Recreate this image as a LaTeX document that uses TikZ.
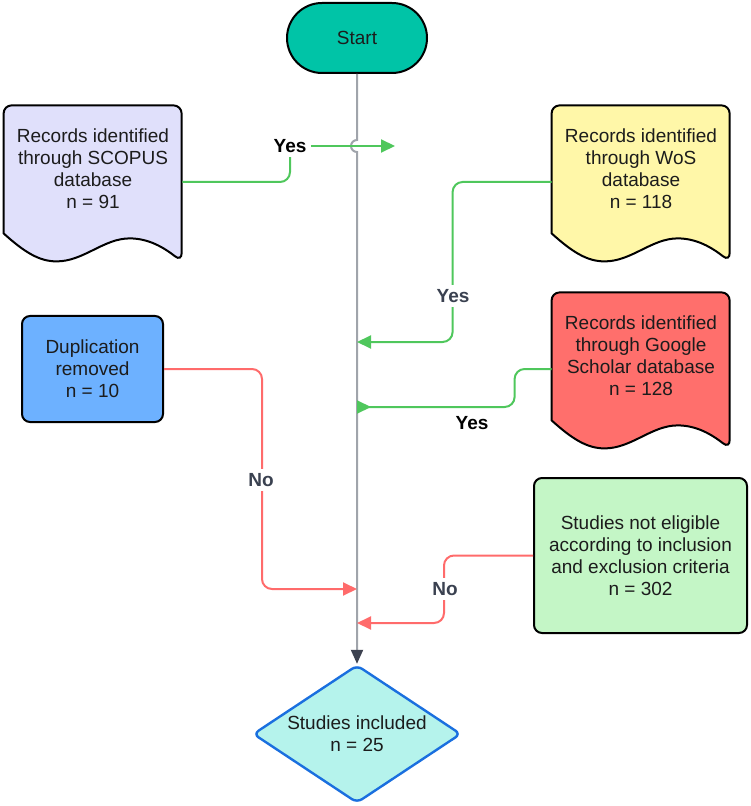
\documentclass[tikz,border=0pt]{standalone}
\usepackage{fontspec}
\setmainfont{Liberation Sans}
\usetikzlibrary{arrows.meta,shapes.geometric,backgrounds}

\definecolor{startfill}{HTML}{00C4A7}
\definecolor{scopusfill}{HTML}{E0E0FB}
\definecolor{wosfill}{HTML}{FFF7A8}
\definecolor{googlefill}{HTML}{FF6F6C}
\definecolor{dupfill}{HTML}{6DB1FF}
\definecolor{eligfill}{HTML}{C4F6C6}
\definecolor{inclfill}{HTML}{B5F3EC}
\definecolor{inclborder}{HTML}{1A6FDF}
\definecolor{yesgreen}{HTML}{4FC75C}
\definecolor{nored}{HTML}{FF6B6B}
\definecolor{maingray}{HTML}{A0A4AB}
\definecolor{arrowdark}{HTML}{3D4250}
\definecolor{lblgray}{HTML}{3A4150}
\definecolor{textdark}{HTML}{1C1C1C}

% outline of a document box, drawn below the node (x and y in px)
\newcommand{\docshape}[2]{%
  \begin{scope}[shift={(#1.south west)}]
    \draw[line width=1pt, fill=#2, rounded corners=4pt] (0,0) -- (0,-128) -- (178,-128) -- (178,28)
      [sharp corners] .. controls (160,14) and (145,5) .. (126,5)
      .. controls (100,5) and (80,28) .. (53,28)
      .. controls (35,28) and (20,18) .. (0,0) -- cycle;
  \end{scope}}

\begin{document}
\begin{tikzpicture}[x=0.5pt, y=-0.5pt,
		every node/.style={font=\fontsize{9.5}{11}\selectfont, text=textdark},
		box/.style={draw=black, line width=1pt, rounded corners=4pt, align=center, inner sep=0pt},
		docnode/.style={align=center, inner sep=0pt, minimum width=89pt, minimum height=64pt},
		lbl/.style={font=\bfseries\fontsize{9.5}{11}\selectfont, fill=white, inner sep=2pt},
		yesline/.style={draw=yesgreen, line width=1pt, rounded corners=5pt, -{Triangle[length=7pt, width=6.5pt]}},
		noline/.style={draw=nored, line width=1pt, rounded corners=5pt, -{Triangle[length=7pt, width=6.5pt]}}]

	\useasboundingbox (0,0) rectangle (750,806);

	% start and end
	\node[box, fill=startfill, rounded corners=17.5pt, minimum width=70pt, minimum height=35pt] (start) at (357,38) {Start};
	\node[diamond, aspect=1.5, draw=inclborder, line width=1.2pt, fill=inclfill, rounded corners=3pt, align=center,
	      minimum width=104pt, minimum height=69pt, inner sep=0pt] (incl) at (357,734) {Studies included\\ n = 25};

	% the three databases
	\node[docnode] (scopus) at (93,169) {Records identified\\ through SCOPUS\\ database\\ n = 91};
	\node[docnode] (wos) at (641,169) {Records identified\\ through WoS\\ database\\ n = 118};
	\node[docnode] (google) at (641,356) {Records identified\\ through Google\\ Scholar database\\ n = 128};
	\begin{scope}[on background layer]
		\docshape{scopus}{scopusfill}
		\docshape{wos}{wosfill}
		\docshape{google}{googlefill}
	\end{scope}

	% removed and not eligible
	\node[box, fill=dupfill, minimum width=70.5pt, minimum height=53pt] (dup) at (92.5,369) {Duplication\\ removed\\ n = 10};
	\node[box, fill=eligfill, minimum width=106.5pt, minimum height=77.5pt] (elig) at (640.5,555.5) {Studies not eligible\\ according to inclusion\\ and exclusion criteria\\ n = 302};

	% points on the main line
	\coordinate (hop) at (357,140);
	\coordinate (scopusend) at (395,146);
	\coordinate (m2) at (357,342);
	\coordinate (m3) at (357,407);
	\coordinate (m4) at (357,589);
	\coordinate (m5) at (357,623);

	% main line with a hop over the green one
	\draw[maingray, line width=1pt, -{Triangle[length=7pt, width=6pt, color=arrowdark]}]
		(start.south) -- (hop) arc[start angle=90, end angle=270, radius=3pt] -- (incl.north);

	% yes branches
	\node[lbl, text=black] (yes1) at (290,146) {Yes};
	\draw[yesline, -] ([yshift=-6.5pt]scopus.east) -| (yes1.south);
	\draw[yesline] (yes1.east) -- (scopusend);

	\draw[yesline] ([yshift=-6.5pt]wos.west) -- ++(-99,0) |- (m2);
	\node[lbl, text=lblgray] (yes2) at (453,296) {Yes};

	\draw[yesline, -{Triangle[length=7pt, width=6.5pt, reversed]}] ([yshift=-6.5pt]google.west) -- ++(-37,0) |- (m3);
	\node[lbl, text=black, fill=none] (yes3) at (472,423) {Yes};

	% no branches
	\draw[noline] (dup.east) -- ++(98,0) |- (m4);
	\node[lbl, text=lblgray] (no1) at (261,480) {No};

	\draw[noline] (elig.west) -- ++(-89,0) |- (m5);
	\node[lbl, text=lblgray] (no2) at (445,589) {No};
\end{tikzpicture}
\end{document}
